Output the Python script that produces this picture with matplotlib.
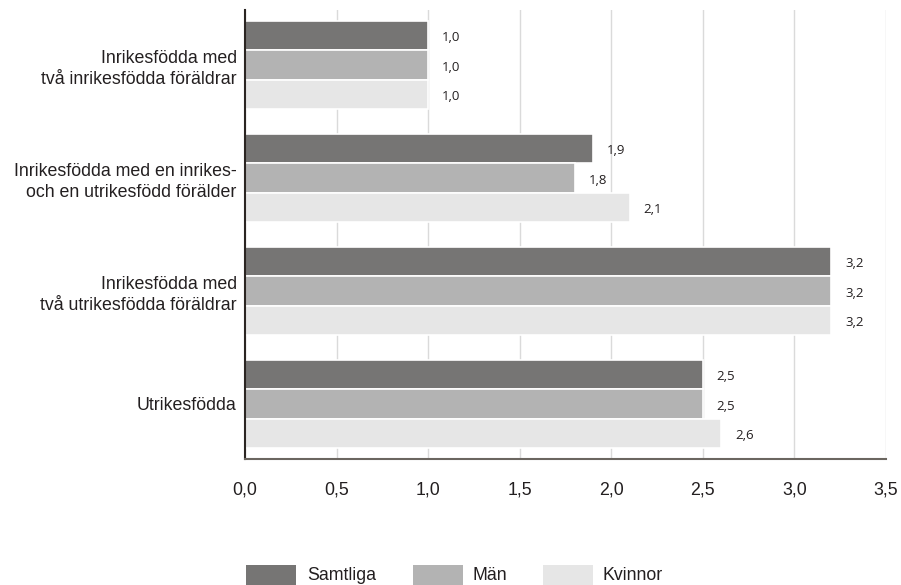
import matplotlib
matplotlib.use("Agg")
import matplotlib.pyplot as plt
from matplotlib.patches import Rectangle

plt.rcParams['font.family'] = ['Liberation Sans', 'DejaVu Sans']

categories = ["Inrikesfödda med\ntvå inrikesfödda föräldrar",
              "Inrikesfödda med en inrikes-\noch en utrikesfödd förälder",
              "Inrikesfödda med\ntvå utrikesfödda föräldrar",
              "Utrikesfödda"]
series_names = ["Samtliga", "Män", "Kvinnor"]
samtliga = [1.0, 1.9, 3.2, 2.5]
man = [1.0, 1.8, 3.2, 2.5]
kvinnor = [1.0, 2.1, 3.2, 2.6]
xticks = [0.0, 0.5, 1.0, 1.5, 2.0, 2.5, 3.0, 3.5]

colors = ["#767574", "#b3b3b3", "#e6e6e6"]
txt = "#231f20"
fs = 12.8

fig = plt.figure(figsize=(9.01, 5.85), dpi=100)
ax = fig.add_axes([245/901, 1-459/585, (886-245)/901, 449/585])

h = 0.26
for i, (name, vals) in enumerate(zip(series_names, [samtliga, man, kvinnor])):
    ys = [g + (i - 1) * h for g in range(len(categories))]
    ax.barh(ys, vals, height=h, color=colors[i], edgecolor="white", linewidth=1.2, zorder=2)
    for y, v in zip(ys, vals):
        ax.annotate(f"{v:.1f}".replace(".", ","), (v, y), xytext=(10, -1.5),
                    textcoords="offset points", va="center", ha="left",
                    fontsize=9.5, color=txt, family=["Open Sans", "DejaVu Sans"])

ax.set_ylim(3.487, -0.487)
ax.set_xlim(0, 3.5)
ax.set_yticks(range(len(categories)))
ax.set_yticklabels(categories, fontsize=fs, color=txt, linespacing=1.3)
ax.set_xticks(xticks)
ax.set_xticklabels([f"{t:.1f}".replace(".", ",") for t in xticks], fontsize=fs, color=txt)
ax.tick_params(axis="both", length=0)
ax.tick_params(axis="y", pad=6)
ax.tick_params(axis="x", pad=16)
ax.xaxis.grid(True, color="#dadada", linewidth=1, zorder=0)
ax.set_axisbelow(True)
for s in ["top", "right"]:
    ax.spines[s].set_visible(False)
ax.spines["left"].set_color("#2b2522")
ax.spines["left"].set_linewidth(1.5)
ax.spines["bottom"].set_color("#6b6660")
ax.spines["bottom"].set_linewidth(1.5)

# legend
leg_x = [246, 413, 543]
text_x = [307, 473, 603]
for x, tx, c, name in zip(leg_x, text_x, colors, series_names):
    fig.add_artist(Rectangle((x/901, 0), 50/901, 20/585, transform=fig.transFigure,
                             color=c, lw=0))
    fig.text(tx/901, 1-575/585, name, fontsize=fs, color=txt, va="center")

fig.savefig("out.png", dpi=100)
